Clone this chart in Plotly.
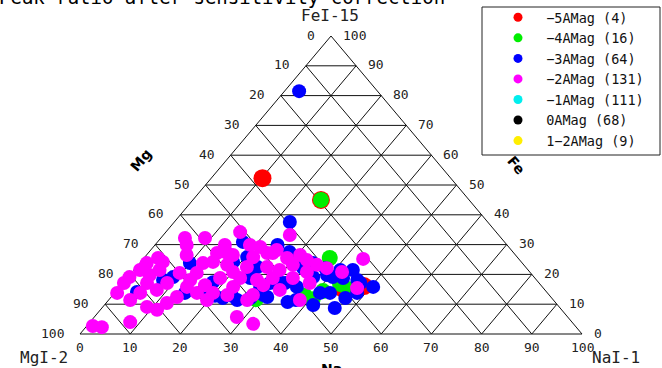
import plotly.graph_objects as go

# ---- ternary compositions (Na %, Fe %); Mg is the remainder ----
red_na = [10.2, 25.5, 44.5, 48.5]
red_fe = [52.3, 45.0, 15.4, 16.1]

green_na = [25.5, 37.0, 43.4, 41.2, 40.5, 29.2, 45.8, 38.4]
green_fe = [45.0, 25.5, 16.8, 14.4, 11.7, 11.7, 15.1, 12.8]

blue_na = [2.9, 23.0, 17.0, 24.4, 28.0, 10.0, 9.0, 4.3, 17.8, 22.4,
           25.6, 31.1, 36.0, 41.6, 46.4, 34.5, 40.8, 43.6, 50.5, 48.3,
           40.9, 35.3, 31.1, 28.2, 24.5, 39.3, 43.0, 30.0, 42.9, 7.5,
           23.9, 17.3, 14.0, 36.9, 46.2, 41.1, 33.4, 24.1, 18.4, 20.4,
           30.8, 32.3, 29.3, 37.3, 46.8, 47.3, 37.8, 20.5, 27.9]
blue_fe = [81.5, 37.6, 30.9, 29.9, 27.5, 23.8, 19.1, 14.1, 17.4, 12.1,
           11.4, 12.4, 10.7, 9.7, 8.7, 23.8, 19.1, 21.5, 15.8, 13.8,
           13.8, 15.8, 17.4, 15.4, 18.8, 19.8, 18.8, 13.1, 13.8, 18.1,
           12.8, 14.4, 13.8, 19.1, 18.1, 21.5, 22.1, 22.5, 24.2, 25.8,
           25.2, 17.1, 17.1, 11.4, 12.1, 17.1, 22.1, 12.8, 12.1]

magenta_na = [14.8, 25.2, 4.8, 8.8, 8.0, 2.8, 1.4, 13.7, 17.2, 21.6,
              24.8, 28.5, 26.0, 22.0, 17.7, 12.6, 13.0, 9.6, 5.1, 1.2,
              0.3, 0.2, 0.5, 4.3, 8.8, 11.3, 5.1, 7.9, 4.8, 8.8,
              13.4, 16.4, 13.1, 19.6, 19.6, 22.6, 22.5, 18.5, 26.2, 29.0,
              29.0, 30.8, 34.8, 37.2, 32.4, 38.1, 27.6, 27.9, 23.7, 21.3,
              25.1, 32.8, 15.7, 14.4, 20.1, 33.0, 38.1, 41.8, 43.8, 47.5,
              28.4, 32.8, 8.0, 1.2, 3.2, 4.4, 6.3, 13.9, 18.9, 30.6,
              35.6, 12.9, 16.7, 28.3, 22.8, 12.1, 4.0]
magenta_fe = [34.2, 33.2, 32.2, 32.2, 26.5, 25.5, 23.8, 27.2, 26.5, 25.8,
              27.2, 25.5, 22.5, 22.5, 23.2, 23.8, 20.5, 20.5, 21.5, 21.5,
              19.1, 17.1, 13.8, 11.4, 9.1, 8.1, 13.8, 14.8, 17.1, 17.1,
              15.8, 13.8, 12.4, 13.8, 11.4, 15.8, 18.8, 18.8, 18.1, 18.8,
              21.5, 23.2, 20.8, 17.1, 14.8, 11.4, 11.4, 13.1, 27.2, 29.2,
              28.2, 24.8, 27.2, 24.2, 20.8, 18.8, 22.1, 20.8, 25.2, 15.4,
              5.7, 3.4, 4.0, 2.7, 2.3, 24.2, 29.9, 29.9, 29.9, 26.5,
              23.2, 18.1, 16.4, 16.4, 13.1, 10.4, 19.8]

series_names = ["−5AMag (4)", "−4AMag (16)", "−3AMag (64)", "−2AMag (131)",
                "−1AMag (111)", "0AMag (68)", "1−2AMag (9)"]
series_colors = ["#ff0000", "#00ee00", "#0000ff", "#ff00ff",
                 "#00eeee", "#000000", "#ffee00"]
series_na = [red_na, green_na, blue_na, magenta_na, [], [], []]
series_fe = [red_fe, green_fe, blue_fe, magenta_fe, [], [], []]
series_size = [18, 16, 14, 14, 14, 14, 14]

ticks = [0, 10, 20, 30, 40, 50, 60, 70, 80, 90, 100]

title_text = "Peak ratio after sensitivity correction"
corner_top, corner_left, corner_right = "FeI-15", "MgI-2", "NaI-1"

# ---- page geometry ----
W, H = 662, 368
X0, X1, YB, YT = 80, 582, 334, 36          # triangle frame in pixels
sx = (X1 - X0) / 100.0
sy = (YB - YT) / 100.0
xr = [-X0 / sx, (W - X0) / sx]
yr = [-(H - YB) / sy, YB / sy]

MONO = "DejaVu Sans Mono"


def tx(na, fe):
    return [a + b / 2.0 for a, b in zip(na, fe)]


def px(xp):
    return xp / W


def py(yp):
    return 1 - yp / H


fig = go.Figure()

# triangular grid: lines of constant Fe, Na and Mg
gx, gy = [], []
for k in ticks:
    # constant Fe
    gx += [k / 2.0, 100 - k / 2.0, None]
    gy += [k, k, None]
    # constant Na: from bottom edge to right edge
    gx += [k, k + (100 - k) / 2.0, None]
    gy += [0, 100 - k, None]
    # constant Mg: from bottom edge to left edge
    gx += [100 - k, (100 - k) / 2.0, None]
    gy += [0, 100 - k, None]
fig.add_trace(go.Scatter(x=gx, y=gy, mode="lines",
                         line=dict(color="#111111", width=1),
                         hoverinfo="skip", showlegend=False))

# data points, plus one legend entry per class
for name, col, na, fe, sz in zip(series_names, series_colors,
                                 series_na, series_fe, series_size):
    if na:
        fig.add_trace(go.Scatter(
            x=tx(na, fe), y=fe, mode="markers", name=name,
            legendgroup=name, showlegend=False,
            marker=dict(color=col, size=sz, line=dict(width=0)),
        ))
    fig.add_trace(go.Scatter(
        x=[None], y=[None], mode="markers", name="\u00a0" + name,
        legendgroup=name,
        marker=dict(color=col, size=9, line=dict(width=0)),
    ))

ann = []
tick_font = dict(family=MONO, size=13, color="#222222")
for k in ticks:
    # Na along the bottom
    ann.append(dict(x=k, y=0, text=str(k), showarrow=False, xref="x", yref="y",
                    xanchor="center", yanchor="middle", yshift=-13,
                    font=tick_font))
    # Mg along the left edge
    ann.append(dict(x=(100 - k) / 2.0, y=100 - k, text=str(k), showarrow=False,
                    xref="x", yref="y", xanchor="right", yanchor="middle",
                    xshift=-14, yshift=1, font=tick_font))
    # Fe along the right edge
    ann.append(dict(x=100 - k / 2.0, y=k, text=str(k), showarrow=False,
                    xref="x", yref="y", xanchor="left", yanchor="middle",
                    xshift=10, yshift=1, font=tick_font))


def label(xp, yp, text, font, angle=0):
    return dict(x=px(xp), y=py(yp), xref="paper", yref="paper", text=text,
                xanchor="center", yanchor="middle", showarrow=False,
                textangle=angle, font=font)


corner_font = dict(family=MONO, size=16, color="#222222")
ann.append(label(330, 15, corner_top, corner_font))
ann.append(label(44, 357, corner_left, corner_font))
ann.append(label(616, 357, corner_right, corner_font))

axis_font = dict(family="DejaVu Sans", size=14, color="#000000")
ann.append(label(331, 369, "<b>Na</b>", axis_font))
ann.append(label(141, 160, "<b>Mg</b>", axis_font, -50))
ann.append(label(516, 165, "<b>Fe</b>", axis_font, 50))

ann.append(dict(x=px(-3), y=py(-3), xref="paper", yref="paper", text=title_text,
                xanchor="left", yanchor="middle", showarrow=False,
                font=dict(family=MONO, size=19, color="#000000")))

fig.update_layout(
    width=W, height=H,
    margin=dict(l=0, r=0, t=0, b=0),
    paper_bgcolor="white", plot_bgcolor="white",
    xaxis=dict(range=xr, visible=False, fixedrange=True),
    yaxis=dict(range=yr, visible=False, fixedrange=True),
    annotations=ann,
    showlegend=True,
    legend=dict(x=px(498), y=py(2), xanchor="left", yanchor="top",
                bgcolor="rgba(0,0,0,0)", borderwidth=0, tracegroupgap=0,
                font=dict(family=MONO, size=13.5, color="#111111")),
    shapes=[dict(type="rect", xref="paper", yref="paper",
                 x0=px(482), x1=px(660), y0=py(155), y1=py(7),
                 line=dict(color="#222222", width=1))],
)

fig.write_html("out.html")
